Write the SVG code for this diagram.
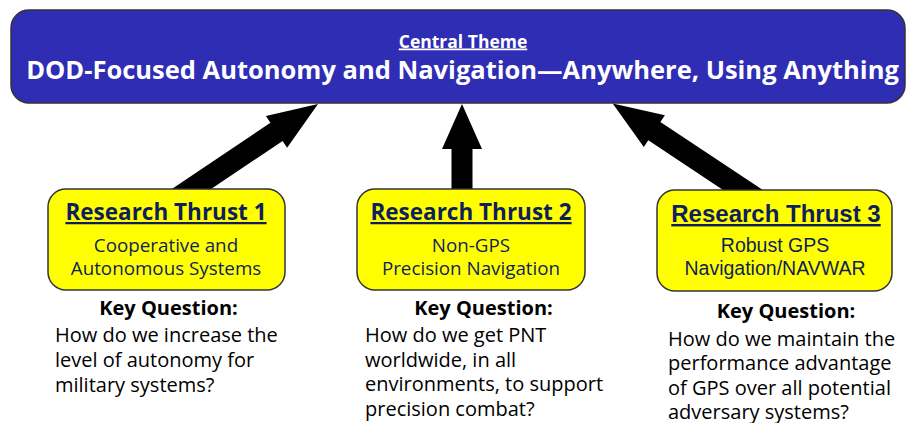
<svg xmlns="http://www.w3.org/2000/svg" width="906" height="423" viewBox="0 0 906 423">
<style>
.bg{fill:#ffffff}
.central{fill:#2E2DB4;stroke:#333333;stroke-width:1.5}
.thrust{fill:#FFFF00;stroke:#333333;stroke-width:1.5}
.arrow{fill:#000000}
.ct{font-family:"Open Sans","Noto Sans","Liberation Sans",sans-serif;font-weight:bold;fill:#ffffff;text-anchor:middle}
.seg{font-family:"Open Sans","Noto Sans","Liberation Sans",sans-serif;fill:#0E1F5B;text-anchor:middle}
.ari{font-family:"Liberation Sans",Arial,sans-serif;fill:#0E1F5B;text-anchor:middle}
.hd{font-weight:bold;text-decoration:underline}
.kq{font-family:"Open Sans","Noto Sans","Liberation Sans",sans-serif;font-weight:bold;font-size:20px;fill:#000;text-anchor:middle}
.q{font-family:"Open Sans","Noto Sans","Liberation Sans",sans-serif;font-size:20px;fill:#000}
</style>
<rect class="bg" x="0" y="0" width="906" height="423"/>
<g id="central-theme">
<rect class="central" x="11" y="10" width="894" height="93" rx="18"/>
<text class="ct" x="463" y="47.5" font-size="17.5" text-decoration="underline">Central Theme</text>
<text class="ct" x="462.5" y="78.5" font-size="25.5">DOD-Focused Autonomy and Navigation—Anywhere, Using Anything</text>
</g>
<g id="connectors">
<polygon class="arrow" points="318,104 265.9,116.1 270.4,122.8 162.5,195.3 174.7,213.5 282.6,141 287.1,147.7"/>
<polygon class="arrow" points="462,104 482,149 472.5,149 472.5,200 451.5,200 451.5,149 442,149"/>
<polygon class="arrow" points="612.7,103.5 664.9,115.3 660.4,122 768.7,193.8 756.5,212.2 648.3,140.3 643.8,147"/>
</g>
<g id="thrust-1">
<rect class="thrust" x="48" y="189" width="237" height="101" rx="18"/>
<text class="seg hd" x="166" y="220" font-size="22.5">Research Thrust 1</text>
<text class="seg" x="166" y="252" font-size="18.8">Cooperative and</text>
<text class="seg" x="166" y="275" font-size="18.8">Autonomous Systems</text>
</g>
<g id="thrust-2">
<rect class="thrust" x="357" y="189" width="228" height="101" rx="18"/>
<text class="seg hd" x="471" y="220" font-size="22.5">Research Thrust 2</text>
<text class="seg" x="471" y="252" font-size="18.8">Non-GPS</text>
<text class="seg" x="471" y="275" font-size="18.8">Precision Navigation</text>
</g>
<g id="thrust-3">
<rect class="thrust" x="657" y="190" width="235" height="101" rx="18"/>
<text class="ari hd" x="776" y="222" font-size="24">Research Thrust 3</text>
<text class="ari" x="775" y="252" font-size="19.5">Robust GPS</text>
<text class="ari" x="775" y="275" font-size="19.5">Navigation/NAVWAR</text>
</g>
<g id="question-1">
<text class="kq" x="168.5" y="315">Key Question:</text>
<text class="q" x="55" y="341.5">How do we increase the</text>
<text class="q" x="55" y="366.5">level of autonomy for</text>
<text class="q" x="55" y="391.5">military systems?</text>
</g>
<g id="question-2">
<text class="kq" x="483.5" y="315">Key Question:</text>
<text class="q" x="365" y="341.5">How do we get PNT</text>
<text class="q" x="365" y="366.5">worldwide, in all</text>
<text class="q" x="365" y="391">environments, to support</text>
<text class="q" x="365" y="415.5">precision combat?</text>
</g>
<g id="question-3">
<text class="kq" x="786" y="318">Key Question:</text>
<text class="q" x="668" y="345.5">How do we maintain the</text>
<text class="q" x="668" y="370">performance advantage</text>
<text class="q" x="668" y="394.5">of GPS over all potential</text>
<text class="q" x="668" y="418.5">adversary systems?</text>
</g>
</svg>
